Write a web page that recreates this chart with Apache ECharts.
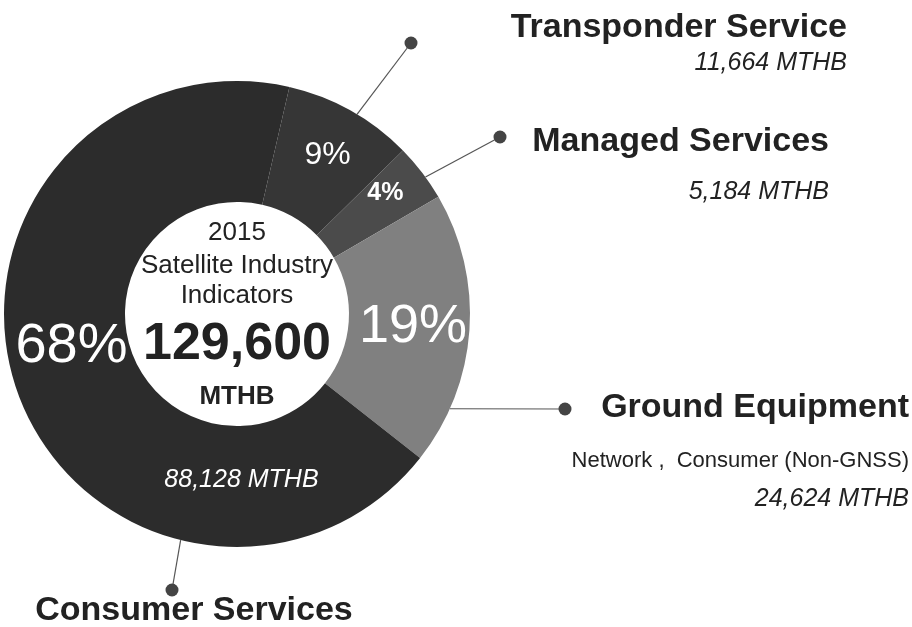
<!DOCTYPE html>
<html>
<head>
<meta charset="utf-8">
<script src="https://cdn.jsdelivr.net/npm/echarts@6/dist/echarts.min.js"></script>
<style>
  html, body { margin: 0; padding: 0; background: #fff; }
  #chart { width: 912px; height: 627px; }
</style>
</head>
<body>
<div id="chart"></div>
<script>
  // data (MTHB)
  const categories = ['Transponder Service', 'Managed Services', 'Ground Equipment', 'Consumer Services'];
  const values = [11664, 5184, 24624, 88128];
  const subTitles = ['', '', 'Network ,  Consumer (Non-GNSS)', ''];
  const showValue = [true, true, true, false]; // consumer value sits inside the ring
  const year = '2015';
  const centerTitle = ['Satellite Industry', 'Indicators'];
  const unit = 'MTHB';

  // layout / style
  const FONT = 'Liberation Sans';
  const cx = 237, cy = 314, r0 = 112, r1 = 233;
  const colors = ['#363636', '#4b4b4b', '#808080', '#2c2c2c'];
  const pctStyle = [
    { fontSize: 32, fontWeight: 'normal', offset: [5, -6] },
    { fontSize: 25, fontWeight: 'bold', offset: [9, -14] },
    { fontSize: 54, fontWeight: 'normal', offset: [1, 1] },
    { fontSize: 56, fontWeight: 'normal', offset: [0, -26] }
  ];
  const anchorAngle = [31, 54, 114, 194];          // where leader lines leave the ring
  const dotPos = [[411, 43], [500, 137], [565, 409], [172, 590]];
  const textPos = [[847, 10], [829, 117], [909, 381], [194, 594]];
  const lineH = [[36, 34], [50, 50], [54, 52, 24], [34]];

  const total = values.reduce((a, b) => a + b, 0);
  const fmt = v => v.toLocaleString('en-US');

  const chart = echarts.init(document.getElementById('chart'));

  // main donut with the percentages
  const mainData = categories.map((name, i) => ({
    name: name,
    value: values[i],
    itemStyle: { color: colors[i] },
    label: pctStyle[i]
  }));

  // only consumer shows its value inside the ring
  const valueData = categories.map((name, i) => ({
    name: name,
    value: values[i],
    label: { show: !showValue[i] }
  }));

  // outside texts
  const textData = categories.map((name, i) => {
    let s = '{t|' + name + '}';
    const rich = { t: { fontFamily: FONT, fontSize: 34, fontWeight: 'bold', color: '#222', lineHeight: lineH[i][0] } };
    let k = 1;
    if (subTitles[i]) {
      s += '\n{s|' + subTitles[i] + '}';
      rich.s = { fontFamily: FONT, fontSize: 22, color: '#222', lineHeight: lineH[i][k++] };
    }
    if (showValue[i]) {
      s += '\n{v|' + fmt(values[i]) + ' ' + unit + '}';
      rich.v = { fontFamily: FONT, fontSize: 25, fontStyle: 'italic', color: '#222', lineHeight: lineH[i][k++] };
    }
    return { name: name, value: values[i], label: { formatter: s, rich: rich } };
  });

  const overlay = {
    type: 'pie',
    center: [cx, cy],
    radius: [r0, r1],
    startAngle: 77,
    clockwise: true,
    silent: true,
    avoidLabelOverlap: false,
    itemStyle: { color: 'rgba(0,0,0,0)' },
    emphasis: { disabled: true }
  };

  const option = {
    backgroundColor: '#fff',
    animation: false,
    series: [
      {
        type: 'pie',
        center: [cx, cy],
        radius: [r0, r1],
        startAngle: 77,
        clockwise: true,
        avoidLabelOverlap: false,
        emphasis: { disabled: true },
        label: {
          show: true,
          position: 'inside',
          color: '#fff',
          fontFamily: FONT,
          formatter: p => Math.round(p.percent) + '%'
        },
        labelLine: { show: false },
        data: mainData
      },
      Object.assign({}, overlay, {
        label: {
          position: 'inside',
          color: '#fff',
          fontFamily: FONT,
          fontSize: 25,
          fontStyle: 'italic',
          offset: [170, 108],
          formatter: p => fmt(p.value) + ' ' + unit
        },
        labelLine: { show: false },
        data: valueData
      }),
      // dots + leader lines
      Object.assign({}, overlay, {
        label: {
          show: true,
          position: 'outside',
          formatter: '{d|}',
          rich: { d: { width: 13, height: 13, borderRadius: 7, backgroundColor: '#444' } }
        },
        labelLine: { show: true, lineStyle: { color: '#555', width: 1.2 } },
        labelLayout: p => {
          const i = p.dataIndex;
          const a = anchorAngle[i] * Math.PI / 180;
          const sx = cx + r1 * Math.sin(a), sy = cy - r1 * Math.cos(a);
          return {
            x: dotPos[i][0], y: dotPos[i][1],
            align: 'center', verticalAlign: 'middle',
            labelLinePoints: [[sx, sy], [dotPos[i][0], dotPos[i][1]]]
          };
        },
        data: categories.map((n, i) => ({ name: n, value: values[i] }))
      }),
      // category names and values
      Object.assign({}, overlay, {
        label: { show: true, position: 'outside' },
        labelLine: { show: false },
        labelLayout: p => {
          const i = p.dataIndex;
          return {
            x: textPos[i][0], y: textPos[i][1],
            align: i === 3 ? 'center' : 'right',
            verticalAlign: 'top'
          };
        },
        data: textData
      })
    ],
    graphic: [
      { type: 'text', x: cx, y: 233, style: { text: year, fontFamily: FONT, fontSize: 26, fill: '#222', align: 'center', verticalAlign: 'middle' } },
      { type: 'text', x: cx, y: 266, style: { text: centerTitle[0], fontFamily: FONT, fontSize: 26, fill: '#222', align: 'center', verticalAlign: 'middle' } },
      { type: 'text', x: cx, y: 296, style: { text: centerTitle[1], fontFamily: FONT, fontSize: 26, fill: '#222', align: 'center', verticalAlign: 'middle' } },
      { type: 'text', x: cx, y: 345, style: { text: fmt(total), fontFamily: FONT, fontSize: 52, fontWeight: 'bold', fill: '#222', align: 'center', verticalAlign: 'middle' } },
      { type: 'text', x: cx, y: 397, style: { text: unit, fontFamily: FONT, fontSize: 26, fontWeight: 'bold', fill: '#222', align: 'center', verticalAlign: 'middle' } }
    ]
  };

  chart.setOption(option);
</script>
</body>
</html>
